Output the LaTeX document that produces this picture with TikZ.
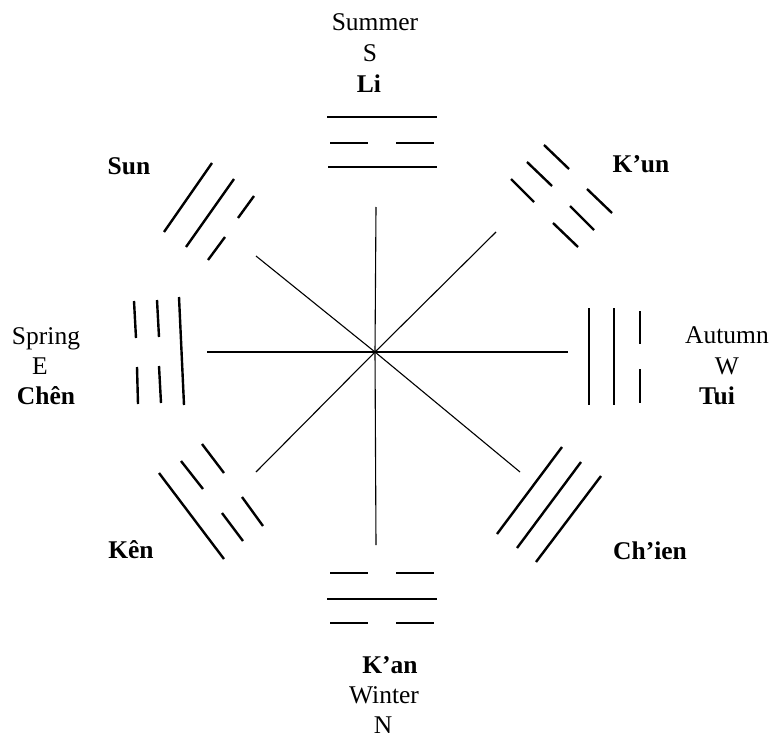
\documentclass[tikz,border=0pt]{standalone}
\usepackage{fontspec}
\setmainfont{Liberation Serif}
\begin{document}
\begin{tikzpicture}[x=1pt,y=-1pt,
  spoke/.style={line width=1.1pt},
  yao/.style={line width=2.4pt},
  lbl/.style={anchor=base,inner sep=0pt,font=\fontsize{25.5}{30}\selectfont},
  blbl/.style={lbl,font=\fontsize{25.5}{30}\selectfont\bfseries}]
\useasboundingbox (0,0) rectangle (775,738);
% centre and spoke ends
\coordinate (O) at (375,352);
\coordinate (eN) at (376,207);
\coordinate (eS) at (376,545);
\coordinate (eW) at (207,352);
\coordinate (eE) at (568,352);
\coordinate (eNE) at (496,232);
\coordinate (eSE) at (520,472);
\coordinate (eSW) at (256,472);
\coordinate (eNW) at (256,256);
\foreach \e in {eN,eS,eW,eE,eNE,eSE,eSW,eNW} \draw[spoke] (O) -- (\e);
% Li (top)
\draw[yao] (327,117) -- (437,117);
\draw[yao] (330,143) -- (368,143) (396,143) -- (434,143);
\draw[yao] (328,167) -- (437,167);
% K'an (bottom)
\draw[yao] (330,573) -- (368,573) (396,573) -- (434,573);
\draw[yao] (327,599) -- (437,599);
\draw[yao] (330,623) -- (368,623) (396,623) -- (434,623);
% Chen (left)
\draw[yao] (134,301) -- (136,338) (137,367) -- (138,404);
\draw[yao] (157,300) -- (159,337) (159,366) -- (161,403);
\draw[yao] (179,297) -- (184,405);
% Tui (right)
\draw[yao] (589,308) -- (589,405);
\draw[yao] (614,308) -- (614,405);
\draw[yao] (640,311) -- (640,344) (640,369) -- (640,403);
% K'un (upper right)
\draw[yao] (544,145) -- (569,169) (587,189) -- (612,213);
\draw[yao] (527,162) -- (552,186) (570,206) -- (594,230);
\draw[yao] (511,179) -- (534,202) (553,223) -- (578,247);
% Ch'ien (lower right)
\draw[yao] (562,447) -- (497,534);
\draw[yao] (581,462) -- (517,548);
\draw[yao] (601,476) -- (536,562);
% Ken (lower left)
\draw[yao] (202,444) -- (224,473) (242,497) -- (263,526);
\draw[yao] (181,461) -- (203,489) (222,513) -- (243,541);
\draw[yao] (159,473) -- (224,559);
% Sun (upper left)
\draw[yao] (212,163) -- (164,232);
\draw[yao] (234,179) -- (186,247);
\draw[yao] (254,196) -- (238,218) (225,237) -- (208,260);
% labels
\node[lbl] (tSummer) at (375,31) {Summer};
\node[lbl] (tS) at (370,62) {S};
\node[blbl] (tLi) at (369,93) {Li};
\node[blbl] (tKan) at (390,673) {K’an};
\node[lbl] (tWinter) at (384,703) {Winter};
\node[lbl] (tN) at (383,733) {N};
\node[lbl] (tSpring) at (46,344) {Spring};
\node[lbl] (tE) at (40,374) {E};
\node[blbl] (tChen) at (46,404) {Chên};
\node[lbl] (tAutumn) at (727,343) {Autumn};
\node[lbl] (tW) at (727,374) {W};
\node[blbl] (tTui) at (717,404) {Tui};
\node[blbl] (tKun) at (641,172) {K’un};
\node[blbl] (tSun) at (129,175) {Sun};
\node[blbl] (tChien) at (650,559) {Ch’ien};
\node[blbl] (tKen) at (131,558) {Kên};
\end{tikzpicture}
\end{document}
